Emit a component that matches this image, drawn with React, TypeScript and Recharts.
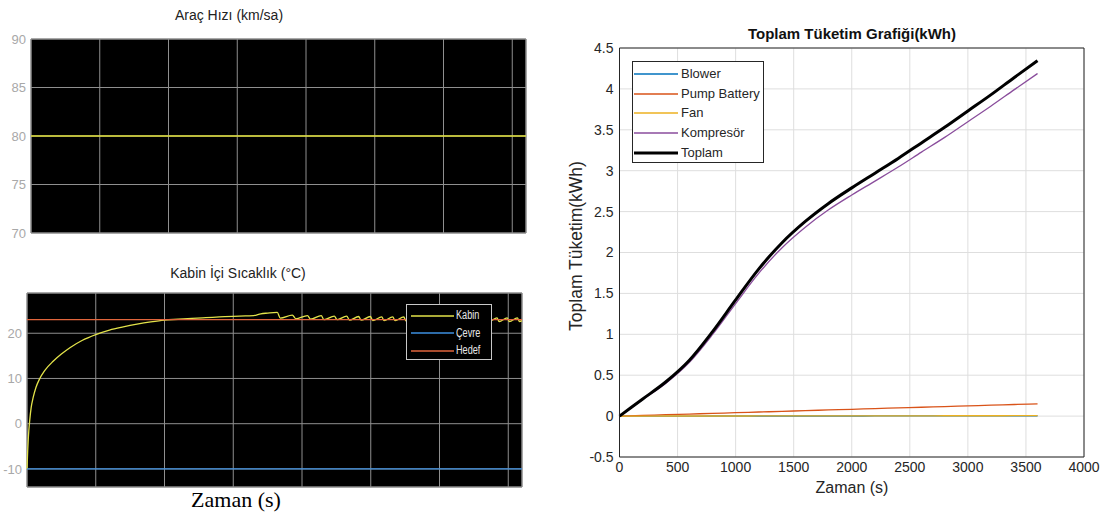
import React from 'react';
import { LineChart, Line, XAxis, YAxis, CartesianGrid, Legend, ReferenceArea } from 'recharts';

// ---- Araç hızı (km/sa) ----
const speedTime = [0, 3600];
const speedKmh = [80, 80];
const speedTicks = [70, 75, 80, 85, 90];
const scopeTimeTicks = [0, 500, 1000, 1500, 2000, 2500, 3000, 3500];

// ---- Kabin içi sıcaklık (°C) ----
const cabinTime = [
  0, 5, 10, 20, 30, 45, 65, 90, 130, 190, 250, 312, 400, 500, 600, 700, 800, 900, 1000,
  1100, 1200, 1300, 1400, 1500, 1600, 1650, 1700, 1750, 1820, 1842,
  1930, 1955, 2040, 2062, 2140, 2160, 2235, 2255, 2325, 2345, 2412, 2430,
  2497, 2515, 2580, 2597, 2660, 2677, 2740, 2757, 2818, 2835, 2895, 2912,
  2972, 2988, 3047, 3063, 3122, 3138, 3196, 3212, 3270, 3286, 3344, 3360,
  3418, 3434, 3492, 3508, 3566, 3582, 3600,
];
const cabinTemp = [
  -10, -6, -3, 0.8, 3.5, 5.8, 8, 9.8, 11.8, 13.8, 15.4, 16.8, 18.4, 19.7, 20.7, 21.4, 22.0, 22.5, 22.9,
  23.1, 23.3, 23.45, 23.6, 23.75, 23.85, 23.9, 24.3, 24.45, 24.6, 23.35,
  24.0, 23.2, 23.9, 23.1, 23.9, 23.0, 23.8, 23.0, 23.8, 22.9, 23.7, 22.9,
  23.7, 22.8, 23.6, 22.8, 23.6, 22.8, 23.6, 22.7, 23.5, 22.7, 23.5, 22.7,
  23.5, 22.7, 23.5, 22.6, 23.4, 22.6, 23.4, 22.6, 23.4, 22.6, 23.4, 22.6,
  23.4, 22.6, 23.4, 22.6, 23.4, 22.6, 22.8,
];
const ambientTemp = -10;
const targetTemp = 23;
const tempTicks = [-10, 0, 10, 20];
const tempSeriesNames = ['Kabin', 'Çevre', 'Hedef'];

// ---- Toplam tüketim (kWh) ----
const energyTime = [0, 200, 400, 600, 800, 1000, 1200, 1400, 1600, 1800, 2000, 2200, 2400, 2600, 2800, 3000, 3200, 3400, 3600];
const blowerKwh = [0, 0, 0, 0, 0.001, 0.001, 0.001, 0.001, 0.001, 0.001, 0.001, 0.002, 0.002, 0.002, 0.002, 0.002, 0.002, 0.002, 0.002];
const pumpKwh = [0, 0.008, 0.017, 0.025, 0.033, 0.042, 0.05, 0.058, 0.067, 0.075, 0.083, 0.092, 0.1, 0.108, 0.117, 0.125, 0.133, 0.142, 0.15];
const fanKwh = [0, 0, 0.001, 0.001, 0.001, 0.001, 0.002, 0.002, 0.002, 0.002, 0.003, 0.003, 0.003, 0.003, 0.004, 0.004, 0.004, 0.005, 0.005];
const compressorKwh = [0, 0.202, 0.402, 0.654, 0.995, 1.376, 1.747, 2.059, 2.31, 2.522, 2.703, 2.873, 3.045, 3.227, 3.407, 3.599, 3.791, 3.991, 4.188];
const totalKwh = [0, 0.21, 0.42, 0.68, 1.03, 1.42, 1.8, 2.12, 2.38, 2.6, 2.79, 2.97, 3.15, 3.34, 3.53, 3.73, 3.93, 4.14, 4.345];
const energySeriesNames = ['Blower', 'Pump Battery', 'Fan', 'Kompresör', 'Toplam'];
const energyXTicks = [0, 500, 1000, 1500, 2000, 2500, 3000, 3500, 4000];
const energyYTicks = [-0.5, 0, 0.5, 1, 1.5, 2, 2.5, 3, 3.5, 4, 4.5];

const speedRows = speedTime.map((t, i) => ({ t, hiz: speedKmh[i] }));
const tempRows = cabinTime.map((t, i) => ({ t, kabin: cabinTemp[i], cevre: ambientTemp, hedef: targetTemp }));
const energyRows = energyTime.map((t, i) => ({
  t,
  blower: blowerKwh[i],
  pump: pumpKwh[i],
  fan: fanKwh[i],
  komp: compressorKwh[i],
  toplam: totalKwh[i],
}));

// series styling (kept apart from the values)
const tempKeys = ['kabin', 'cevre', 'hedef'];
const tempColors = ['#e3e34a', '#3d8fe0', '#e0653c'];
const energyKeys = ['blower', 'pump', 'fan', 'komp', 'toplam'];
const energyColors = ['#0072BD', '#D95319', '#EDB120', '#8a4d9c', '#000000'];
const energyWidths = [1.3, 1.3, 1.3, 1.3, 3];

const SANS = '"Liberation Sans", Arial, Helvetica, sans-serif';
const scopeTick = { fill: '#a8a8a8', fontSize: 13, fontFamily: SANS };
const matlabTick = { fill: '#262626', fontSize: 14, fontFamily: SANS };
const matlabInk = '#262626';

function LegendSwatch({ color, width, length }: { color: string; width: number; length: number }) {
  return (
    <svg width={length} height={6} style={{ display: 'block', flex: 'none' }}>
      <line x1={0} y1={3} x2={length} y2={3} stroke={color} strokeWidth={width} />
    </svg>
  );
}

function ScopeLegend() {
  return (
    <div
      style={{
        width: 86,
        height: 56,
        boxSizing: 'border-box',
        background: '#000',
        border: '1px solid #c8c8c8',
        paddingTop: 2,
        fontFamily: SANS,
      }}
    >
      {tempSeriesNames.map((name, i) => (
        <div key={name} style={{ display: 'flex', alignItems: 'center', height: 17.5 }}>
          <div style={{ marginLeft: 4 }}>
            <LegendSwatch color={tempColors[i]} width={1.4} length={43} />
          </div>
          <span
            style={{
              display: 'inline-block',
              marginLeft: 2,
              color: '#e8e8e8',
              fontSize: 12,
              lineHeight: '13px',
              transform: 'scaleX(0.76)',
              transformOrigin: 'left center',
              whiteSpace: 'nowrap',
            }}
          >
            {name}
          </span>
        </div>
      ))}
    </div>
  );
}

function EnergyLegend() {
  return (
    <div
      style={{
        width: 132,
        height: 102,
        boxSizing: 'border-box',
        background: '#fff',
        border: `1px solid ${matlabInk}`,
        paddingTop: 2,
        fontFamily: SANS,
      }}
    >
      {energySeriesNames.map((name, i) => (
        <div key={name} style={{ display: 'flex', alignItems: 'center', height: 19.8 }}>
          <div style={{ marginLeft: 1 }}>
            <LegendSwatch color={energyColors[i]} width={energyWidths[i]} length={44} />
          </div>
          <span style={{ marginLeft: 3, color: matlabInk, fontSize: 13, lineHeight: '14px', whiteSpace: 'nowrap' }}>
            {name}
          </span>
        </div>
      ))}
    </div>
  );
}

function SpeedScope() {
  return (
    <LineChart width={540} height={250} data={speedRows} margin={{ top: 39, right: 14, bottom: 17, left: 0 }}>
      <CartesianGrid fill="#000" fillOpacity={1} stroke="#8f8f8f" />
      <XAxis dataKey="t" type="number" domain={[0, 3600]} ticks={scopeTimeTicks} hide />
      <YAxis
        type="number"
        domain={[70, 90]}
        ticks={speedTicks}
        interval={0}
        width={31}
        tick={scopeTick}
        tickLine={false}
        axisLine={false}
        tickSize={0}
        tickMargin={5}
      />
      <ReferenceArea x1={0} x2={3600} y1={70} y2={90} fill="none" stroke="#8a8a8a" ifOverflow="visible" />
      <Line dataKey="hiz" type="linear" stroke="#e2e23a" strokeWidth={1.5} dot={false} isAnimationActive={false} />
    </LineChart>
  );
}

function CabinScope() {
  return (
    <LineChart width={540} height={240} data={tempRows} margin={{ top: 33, right: 18, bottom: 13, left: 0 }}>
      <CartesianGrid fill="#000" fillOpacity={1} stroke="#8f8f8f" />
      <XAxis dataKey="t" type="number" domain={[0, 3600]} ticks={scopeTimeTicks} hide />
      <YAxis
        type="number"
        domain={[-14, 28.9]}
        ticks={tempTicks}
        interval={0}
        width={27}
        tick={scopeTick}
        tickLine={false}
        axisLine={false}
        tickSize={0}
        tickMargin={5}
      />
      <ReferenceArea x1={0} x2={3600} y1={-14} y2={28.9} fill="none" stroke="#8a8a8a" ifOverflow="visible" />
      <Legend
        layout="vertical"
        align="center"
        verticalAlign="middle"
        content={<ScopeLegend />}
        wrapperStyle={{ left: 406, top: 44, width: 86, height: 56 }}
      />
      {tempKeys.map((key, i) => (
        <Line
          key={key}
          dataKey={key}
          name={tempSeriesNames[i]}
          type={key === 'kabin' ? 'monotone' : 'linear'}
          stroke={tempColors[i]}
          strokeWidth={1.3}
          dot={false}
          isAnimationActive={false}
        />
      ))}
    </LineChart>
  );
}

function EnergyChart() {
  const inner = { type: 'number' as const, allowDataOverflow: true, tick: false as const, tickSize: 5, stroke: matlabInk };
  return (
    <LineChart width={540} height={516} data={energyRows} margin={{ top: 48, right: 16, bottom: 19, left: 0 }}>
      <CartesianGrid stroke="#dedede" />
      <XAxis
        dataKey="t"
        type="number"
        domain={[0, 4000]}
        ticks={energyXTicks}
        interval={0}
        height={40}
        tick={matlabTick}
        tickLine={false}
        axisLine={false}
        tickSize={0}
        tickMargin={5}
      />
      <XAxis xAxisId="inB" orientation="bottom" mirror domain={[0, 4000]} ticks={energyXTicks} interval={0} {...inner} />
      <XAxis xAxisId="inT" orientation="top" mirror domain={[0, 4000]} ticks={energyXTicks} interval={0} {...inner} />
      <YAxis
        type="number"
        domain={[-0.5, 4.5]}
        ticks={energyYTicks}
        interval={0}
        width={59.5}
        tick={matlabTick}
        tickLine={false}
        axisLine={false}
        tickSize={0}
        tickMargin={6}
      />
      <YAxis yAxisId="inL" orientation="left" mirror domain={[-0.5, 4.5]} ticks={energyYTicks} interval={0} {...inner} />
      <YAxis yAxisId="inR" orientation="right" mirror domain={[-0.5, 4.5]} ticks={energyYTicks} interval={0} {...inner} />
      <Legend
        layout="vertical"
        align="center"
        verticalAlign="middle"
        content={<EnergyLegend />}
        wrapperStyle={{ left: 72, top: 61, width: 132, height: 102 }}
      />
      {energyKeys.map((key, i) => (
        <Line
          key={key}
          dataKey={key}
          name={energySeriesNames[i]}
          type="monotone"
          stroke={energyColors[i]}
          strokeWidth={energyWidths[i]}
          dot={false}
          isAnimationActive={false}
        />
      ))}
    </LineChart>
  );
}

export default function App() {
  return (
    <div
      style={{
        position: 'absolute',
        left: 0,
        top: 0,
        width: 1120,
        height: 516,
        background: '#fff',
        overflow: 'hidden',
        fontFamily: SANS,
      }}
    >
      <div style={{ position: 'absolute', left: 129, top: 7, width: 200, textAlign: 'center', fontSize: 14, lineHeight: '16px', color: '#222' }}>
        Araç Hızı (km/sa)
      </div>
      <div style={{ position: 'absolute', left: 0, top: 0 }}>
        <SpeedScope />
      </div>

      <div style={{ position: 'absolute', left: 128, top: 265, width: 220, textAlign: 'center', fontSize: 14, lineHeight: '16px', color: '#222' }}>
        Kabin İçi Sıcaklık (°C)
      </div>
      <div style={{ position: 'absolute', left: 0, top: 260 }}>
        <CabinScope />
      </div>
      <div style={{ position: 'absolute', left: 136, top: 489, width: 200, textAlign: 'center', fontFamily: '"Liberation Serif", "Times New Roman", serif', fontSize: 22, lineHeight: '22px', color: '#000' }}>
        Zaman (s)
      </div>

      <div style={{ position: 'absolute', left: 560, top: 0 }}>
        <EnergyChart />
      </div>
      <div style={{ position: 'absolute', left: 702, top: 25, width: 300, textAlign: 'center', fontSize: 15, lineHeight: '18px', fontWeight: 700, color: '#111' }}>
        Toplam Tüketim Grafiği(kWh)
      </div>
      <div style={{ position: 'absolute', left: 752, top: 479, width: 200, textAlign: 'center', fontSize: 16, lineHeight: '18px', color: matlabInk }}>
        Zaman (s)
      </div>
      <div
        style={{
          position: 'absolute',
          left: 575.5,
          top: 246,
          transform: 'translate(-50%, -50%) rotate(-90deg)',
          whiteSpace: 'nowrap',
          fontSize: 17.5,
          lineHeight: '18px',
          color: matlabInk,
        }}
      >
        Toplam Tüketim(kWh)
      </div>
    </div>
  );
}
